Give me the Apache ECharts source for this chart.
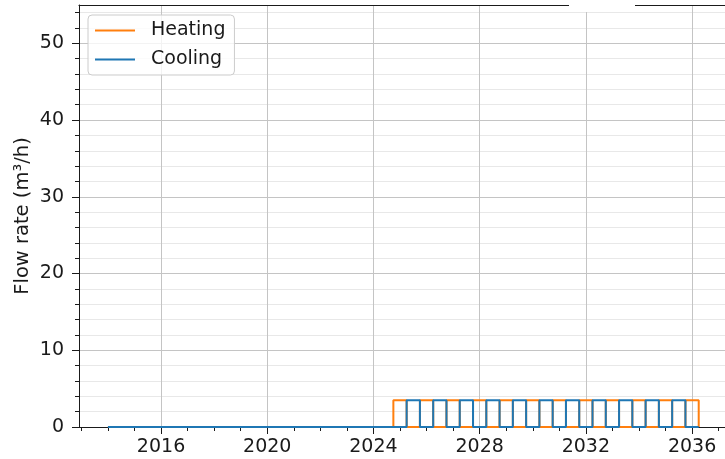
<!DOCTYPE html>
<html>
<head>
<meta charset="utf-8">
<title>Flow rate</title>
<script src="https://cdn.jsdelivr.net/npm/echarts@6/dist/echarts.min.js"></script>
<style>
html,body{margin:0;padding:0;background:#fff;}
#main{width:725px;height:459px;}
</style>
</head>
<body>
<div id="main"></div>
<script>
// step changes: from year x on, flow = value (m3/h)
var heatingYears = [2014, 2024.75, 2025.25, 2025.75, 2026.25, 2026.75, 2027.25, 2027.75, 2028.25, 2028.75,
	2029.25, 2029.75, 2030.25, 2030.75, 2031.25, 2031.75, 2032.25, 2032.75, 2033.25, 2033.75,
	2034.25, 2034.75, 2035.25, 2035.75, 2036.25];
var heatingFlow = [0, 3.5, 0, 3.5, 0, 3.5, 0, 3.5, 0, 3.5,
	0, 3.5, 0, 3.5, 0, 3.5, 0, 3.5, 0, 3.5,
	0, 3.5, 0, 3.5, 0];
var coolingYears = [2014, 2025.25, 2025.75, 2026.25, 2026.75, 2027.25, 2027.75, 2028.25, 2028.75,
	2029.25, 2029.75, 2030.25, 2030.75, 2031.25, 2031.75, 2032.25, 2032.75, 2033.25, 2033.75,
	2034.25, 2034.75, 2035.25, 2035.75, 2036.25];
var coolingFlow = [0, 3.5, 0, 3.5, 0, 3.5, 0, 3.5, 0,
	3.5, 0, 3.5, 0, 3.5, 0, 3.5, 0, 3.5, 0,
	3.5, 0, 3.5, 0, 0];

var xMajor = [2016, 2020, 2024, 2028, 2032, 2036];
var xMinor = [2013, 2014, 2015, 2017, 2018, 2019, 2021, 2022, 2023, 2025, 2026, 2027,
	2029, 2030, 2031, 2033, 2034, 2035, 2037];
var yMajor = [0, 10, 20, 30, 40, 50];
var yMinor = [2, 4, 6, 8, 12, 14, 16, 18, 22, 24, 26, 28, 32, 34, 36, 38, 42, 44, 46, 48, 52, 54];

var xMin = 2012.91, xMax = 2037.24;
var font = 'DejaVu Sans';
var ink = '#1a1a1a';

function pairs(xs, ys){
	var out = [];
	for(var i=0;i<xs.length;i++){
		out.push([xs[i], ys[i]]);
	}
	return out;
}

var myChart = echarts.init(document.getElementById('main'));
var option = {
	animation: false,
	backgroundColor: '#ffffff',
	grid: { left: 79, right: 0, top: 5, bottom: 32 },
	legend: {
		orient: 'vertical',
		left: 88,
		top: 15,
		data: ['Heating', 'Cooling'],
		icon: 'path://M0,0L40,0L40,2L0,2Z',
		itemWidth: 40,
		itemHeight: 2,
		itemGap: 10,
		padding: [6, 9, 6, 7],
		backgroundColor: 'rgba(255,255,255,0.8)',
		borderColor: '#cccccc',
		borderWidth: 1,
		borderRadius: 4,
		textStyle: { fontFamily: font, fontSize: 19, color: ink, padding: [0, 0, 0, 11] }
	},
	xAxis: [{
		type: 'value', min: xMin, max: xMax, position: 'bottom',
		axisLine: { show: true, onZero: false, lineStyle: { color: ink, width: 1 } },
		axisTick: { customValues: xMajor, length: 7, lineStyle: { color: ink, width: 1 } },
		axisLabel: { customValues: xMajor, margin: 11, fontFamily: font, fontSize: 19, color: ink,
			formatter: function(v){ return String(v); } },
		splitLine: { show: true, lineStyle: { color: '#c4c4c4', width: 1 } }
	}, {
		type: 'value', min: xMin, max: xMax, position: 'bottom',
		axisLine: { show: false },
		axisTick: { customValues: xMinor, length: 4, lineStyle: { color: ink, width: 1 } },
		axisLabel: { show: false },
		splitLine: { show: false }
	}, {
		type: 'value', min: xMin, max: xMax, position: 'top',
		axisLine: { show: true, onZero: false, lineStyle: { color: ink, width: 1.2 } },
		axisTick: { show: false },
		axisLabel: { show: false },
		splitLine: { show: false }
	}],
	yAxis: [{
		type: 'value', min: 0, max: 55, position: 'left',
		name: 'Flow rate (m³/h)', nameLocation: 'middle', nameGap: 46,
		nameMoveOverlap: false,
		nameTextStyle: { fontFamily: font, fontSize: 19.5, color: ink },
		axisLine: { show: true, onZero: false, lineStyle: { color: ink, width: 1 } },
		axisTick: { customValues: yMajor, length: 7, lineStyle: { color: ink, width: 1 } },
		axisLabel: { customValues: yMajor, margin: 15, fontFamily: font, fontSize: 19, color: ink },
		splitLine: { show: true, lineStyle: { color: '#c4c4c4', width: 1 } }
	}, {
		type: 'value', min: 0, max: 55, position: 'left',
		axisLine: { show: false },
		axisTick: { customValues: yMinor, length: 4, lineStyle: { color: ink, width: 1 } },
		axisLabel: { show: false },
		splitLine: { show: true, lineStyle: { color: '#e8e8e8', width: 1 } }
	}],
	graphic: [{
		type: 'rect', left: 569, top: 0, z: 100,
		shape: { width: 66, height: 12 },
		style: { fill: '#ffffff' }
	}],
	series: [{
		name: 'Heating', type: 'line', step: 'end', symbol: 'none',
		xAxisIndex: 0, yAxisIndex: 0,
		data: pairs(heatingYears, heatingFlow),
		lineStyle: { color: '#ff7f0e', width: 2 },
		itemStyle: { color: '#ff7f0e' }
	}, {
		name: 'Cooling', type: 'line', step: 'end', symbol: 'none',
		xAxisIndex: 0, yAxisIndex: 0,
		data: pairs(coolingYears, coolingFlow),
		lineStyle: { color: '#1f77b4', width: 2 },
		itemStyle: { color: '#1f77b4' }
	}]
};
myChart.setOption(option);
</script>
</body>
</html>
